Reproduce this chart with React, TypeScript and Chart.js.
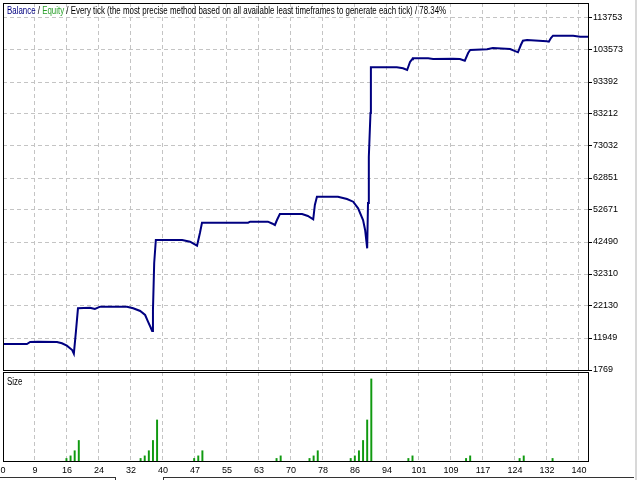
import React, { useEffect, useRef } from "react";
import { Chart, registerables, type ChartConfiguration, type Plugin } from "chart.js";

Chart.register(...registerables);

const FONT = "'Liberation Sans', Arial, sans-serif";
const GRID = "#c4c4c4";

// balance curve, trade number -> balance
const balanceTrades = [
  0.6, 6.4, 7.2, 9.1, 13.7, 14.9, 16.1, 17.4, 17.8, 18.3, 18.8, 21.7, 22.9, 24.2, 30.7, 32.2, 33.9, 35.1,
  35.8, 36.5, 36.8, 37.0, 37.3, 37.7, 44.1, 46.0, 47.7, 48.4, 48.9, 60.1, 60.6, 64.9, 65.9, 66.6, 67.1,
  67.8, 73.2, 74.6, 75.9, 76.3, 76.8, 81.9, 84.1, 85.6, 86.8, 88.0, 88.5, 89.0, 89.2, 89.4, 89.8, 89.9,
  96.2, 97.7, 98.7, 99.4, 99.9, 100.1, 103.8, 105.0, 109.8, 111.5, 112.7, 113.5, 114.0, 118.1, 119.5,
  123.7, 125.6, 126.3, 126.8, 127.8, 132.6, 133.1, 133.6, 134.1, 139.0, 140.7, 142.6,
];
const balanceValues = [
  10040, 10040, 10680, 10770, 10680, 10260, 9500, 8130, 6955, 13950, 21400, 21590, 21180, 21910, 21910,
  21400, 20540, 19270, 17140, 15130, 14180, 20860, 35810, 43130, 43130, 42590, 41310, 45350, 48630,
  48630, 48950, 48950, 48380, 47900, 49490, 51400, 51400, 50760, 49710, 54260, 56900, 56900, 56170,
  55310, 53210, 49490, 46310, 40490, 54900, 69630, 83530, 98070, 98070, 97750, 97210, 99750, 100610,
  100930, 100930, 100710, 100800, 100710, 100170, 102620, 103570, 103790, 104210, 103890, 102840,
  105160, 106530, 106750, 106340, 106210, 107390, 108120, 108120, 107800, 107800,
];

// lot size per trade
const sizeTrades = [
  16, 17, 18, 19, 34, 35, 36, 37, 38, 47, 48, 49, 67, 68, 75, 76, 77, 85, 86, 87, 88, 89, 90, 99, 100,
  113, 114, 126, 127, 134,
];
const sizeValues = [
  0.1, 0.2, 0.4, 0.8, 0.1, 0.2, 0.4, 0.8, 1.6, 0.1, 0.2, 0.4, 0.1, 0.2, 0.1, 0.2, 0.4, 0.1, 0.2, 0.4,
  0.8, 1.6, 3.2, 0.1, 0.2, 0.1, 0.2, 0.1, 0.2, 0.1,
];

const yTickLabels = [1769, 11949, 22130, 32310, 42490, 52671, 62851, 73032, 83212, 93392, 103573, 113753];
const xTickLabels = [
  "0", "9", "16", "24", "32", "40", "47", "55", "63", "70", "78", "86", "94", "101", "109", "117", "124",
  "132", "140",
];

const X_MIN = 0.6;
const X_MAX = 142.6;
const X_STEP = 7.767;
const Y_MIN = 1769;
const Y_MAX = 118525;
const SIZE_MAX = 3.47;

const framePlugin: Plugin = {
  id: "frame",
  afterDraw(chart) {
    const { ctx, chartArea: a } = chart;
    ctx.save();
    ctx.strokeStyle = "#000";
    ctx.lineWidth = 1;
    ctx.strokeRect(a.left + 0.5, a.top + 0.5, a.width, a.height);
    ctx.restore();
  },
};

const xTicks = (s: any) => {
  s.ticks = xTickLabels.map((_, i) => ({ value: X_MIN + i * X_STEP }));
};

function MainChart() {
  const ref = useRef<HTMLCanvasElement | null>(null);
  useEffect(() => {
    if (!ref.current) return;
    const config: ChartConfiguration<"line"> = {
      type: "line",
      data: {
        datasets: [
          {
            data: balanceTrades.map((t, i) => ({ x: t, y: balanceValues[i] })),
            borderColor: "#000080",
            borderWidth: 2,
            pointRadius: 0,
            tension: 0,
          },
        ],
      },
      options: {
        animation: false,
        responsive: true,
        maintainAspectRatio: false,
        layout: { padding: { left: 3, top: 3, right: 0, bottom: 10 } },
        plugins: { legend: { display: false }, tooltip: { enabled: false } },
        scales: {
          x: {
            type: "linear",
            min: X_MIN,
            max: X_MAX,
            afterBuildTicks: xTicks,
            ticks: { display: false },
            grid: { color: GRID, drawTicks: false },
            border: { display: false, dash: [4, 3] },
            afterFit: (s: any) => {
              s.height = 0;
              s.paddingLeft = 0;
              s.paddingRight = 0;
            },
          },
          y: {
            position: "right",
            min: Y_MIN,
            max: Y_MAX,
            afterBuildTicks: (s: any) => {
              s.ticks = yTickLabels.map((v) => ({ value: v }));
            },
            ticks: { color: "#000", font: { family: FONT, size: 9 }, padding: 1, callback: (v) => String(v) },
            grid: { color: GRID, tickColor: "#000", tickLength: 4 },
            border: { display: false, dash: [4, 3] },
            afterFit: (s: any) => {
              s.width = 52;
              s.paddingTop = 0;
              s.paddingBottom = 0;
            },
          },
        },
      },
      plugins: [framePlugin],
    };
    const chart = new Chart(ref.current, config);
    return () => chart.destroy();
  }, []);
  return <canvas ref={ref} />;
}

function SizeChart() {
  const ref = useRef<HTMLCanvasElement | null>(null);
  useEffect(() => {
    if (!ref.current) return;
    const config: ChartConfiguration<"bar"> = {
      type: "bar",
      data: {
        datasets: [
          {
            data: sizeTrades.map((t, i) => ({ x: t, y: sizeValues[i] })) as any,
            backgroundColor: "#109a10",
            barThickness: 1.3,
          },
        ],
      },
      options: {
        animation: false,
        responsive: true,
        maintainAspectRatio: false,
        layout: { padding: { left: 3, top: 10, right: 0, bottom: 0 } },
        plugins: { legend: { display: false }, tooltip: { enabled: false } },
        scales: {
          x: {
            type: "linear",
            offset: false,
            min: X_MIN,
            max: X_MAX,
            afterBuildTicks: xTicks,
            ticks: {
              color: "#000",
              font: { family: FONT, size: 9 },
              padding: 4,
              maxRotation: 0,
              autoSkip: false,
              callback: (_v, i) => xTickLabels[i],
            },
            grid: { color: GRID, drawTicks: false, offset: false },
            border: { display: false, dash: [4, 3] },
            afterFit: (s: any) => {
              s.height = 19;
              s.paddingLeft = 0;
              s.paddingRight = 0;
            },
          },
          y: {
            position: "right",
            min: 0,
            max: SIZE_MAX,
            ticks: { display: false },
            grid: { display: false },
            border: { display: false },
            afterFit: (s: any) => {
              s.width = 52;
              s.paddingTop = 0;
              s.paddingBottom = 0;
            },
          },
        },
      },
      plugins: [framePlugin],
    };
    const chart = new Chart(ref.current, config);
    return () => chart.destroy();
  }, []);
  return <canvas ref={ref} />;
}

const narrow: React.CSSProperties = {
  position: "absolute",
  fontSize: 10,
  whiteSpace: "nowrap",
  color: "#000",
  transform: "scaleX(0.79)",
  transformOrigin: "left top",
};

export default function App() {
  return (
    <div style={{ position: "fixed", left: 0, top: 0, width: 640, height: 480, background: "#fff", fontFamily: FONT }}>
      <div style={{ position: "absolute", left: 0, top: 0, width: 640, height: 380 }}>
        <MainChart />
      </div>
      <div style={{ position: "absolute", left: 0, top: 362, width: 640, height: 118 }}>
        <SizeChart />
      </div>
      <div style={{ ...narrow, left: 7, top: 5 }}>
        <span style={{ color: "#000080" }}>Balance</span> / <span style={{ color: "#2ca02c" }}>Equity</span> / Every
        tick (the most precise method based on all available least timeframes to generate each tick) / 78.34%
      </div>
      <div style={{ ...narrow, left: 7, top: 376 }}>Size</div>
      <div style={{ position: "absolute", left: 635, top: 0, width: 2, height: 480, background: "#d8d8d8" }} />
      <div style={{ position: "absolute", left: 0, top: 477, width: 115, height: 3, borderTop: "1px solid #333", borderRight: "1px solid #333" }} />
      <div style={{ position: "absolute", left: 163, top: 477, width: 470, height: 3, borderTop: "1px solid #333", borderLeft: "1px solid #333" }} />
    </div>
  );
}
